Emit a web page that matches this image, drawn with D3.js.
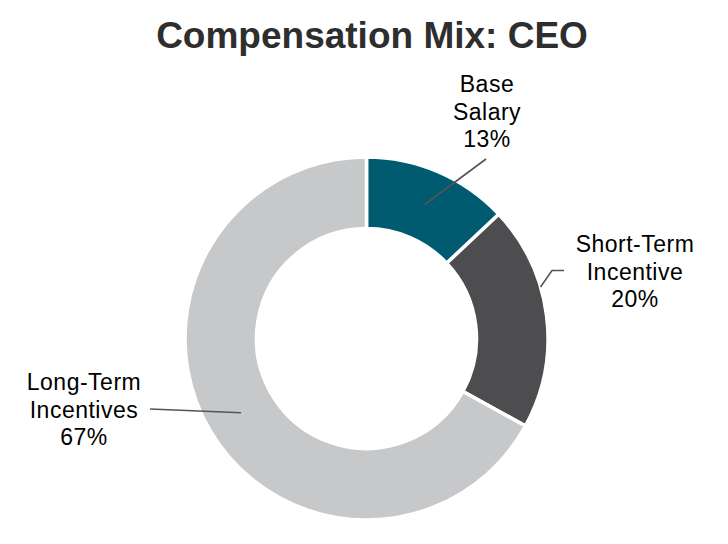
<!DOCTYPE html>
<html>
<head>
<meta charset="utf-8">
<script src="https://cdn.jsdelivr.net/npm/d3@7"></script>
<style>
    body { margin: 0; background: #fff; }
    svg { display: block; }
</style>
</head>
<body>
<div id="chart"></div>
<script>
    // chart data
    var categories = ['Base Salary', 'Short-Term Incentive', 'Long-Term Incentives'];
    var labelLines = [['Base', 'Salary'], ['Short-Term', 'Incentive'], ['Long-Term', 'Incentives']];
    var values = [13, 20, 67];
    var colors = ['#005a70', '#4d4d4f', '#c7c8ca'];

    var W = 728, H = 544;
    var cx = 366.5, cy = 338.5;
    var outerR = 181.5, innerR = 110;

    // where each label sits and where its leader line goes (layout only)
    var labelPos = [
        {x: 487, y: 92, lineEnd: [486, 159], lineStart: 'centroid'},
        {x: 635, y: 252, lineEnd: [564, 270.5], elbow: [552, 270.5], lineStart: 'outer', startAngle: 73.5},
        {x: 84, y: 390, lineEnd: [150, 409], lineStart: 'centroid'}
    ];

    var svg = d3.select('#chart').append('svg')
        .attr('width', W)
        .attr('height', H);

    svg.append('text')
        .attr('x', 372)
        .attr('y', 48)
        .attr('text-anchor', 'middle')
        .style('font-family', '"Liberation Sans", Arial, sans-serif')
        .style('font-weight', 'bold')
        .style('font-size', '37px')
        .style('fill', '#2e2e2e')
        .text('Compensation Mix: CEO');

    var pie = d3.pie().sort(null).value(function(d) { return d; });
    var arcs = pie(values);

    var arc = d3.arc().innerRadius(innerR).outerRadius(outerR);

    var g = svg.append('g').attr('transform', 'translate(' + cx + ',' + cy + ')');

    g.selectAll('path.slice')
        .data(arcs)
        .enter().append('path')
        .attr('class', 'slice')
        .attr('d', arc)
        .style('fill', function(d, i) { return colors[i]; })
        .style('stroke', '#fff')
        .style('stroke-width', 3.5);

    // leader lines
    arcs.forEach(function(d, i) {
        var lp = labelPos[i];
        var start;
        if (lp.lineStart === 'centroid') {
            var c = arc.centroid(d);
            start = [cx + c[0], cy + c[1]];
        } else {
            var a = lp.startAngle * Math.PI / 180;
            start = [cx + Math.sin(a) * outerR, cy - Math.cos(a) * outerR];
        }
        var pts = [start];
        if (lp.elbow) pts.push(lp.elbow);
        pts.push(lp.lineEnd);
        svg.append('path')
            .attr('d', d3.line()(pts))
            .style('fill', 'none')
            .style('stroke', '#555')
            .style('stroke-width', 1.6);
    });

    // labels
    var lineH = 27.5;
    arcs.forEach(function(d, i) {
        var lp = labelPos[i];
        var t = svg.append('text')
            .attr('text-anchor', 'middle')
            .style('font-family', '"Liberation Sans", Arial, sans-serif')
            .style('font-size', '23px')
            .style('letter-spacing', '0.5px')
            .style('fill', '#000');
        var lines = labelLines[i].concat([values[i] + '%']);
        lines.forEach(function(s, j) {
            t.append('tspan')
                .attr('x', lp.x)
                .attr('y', lp.y + j * lineH)
                .text(s);
        });
    });
</script>
</body>
</html>
